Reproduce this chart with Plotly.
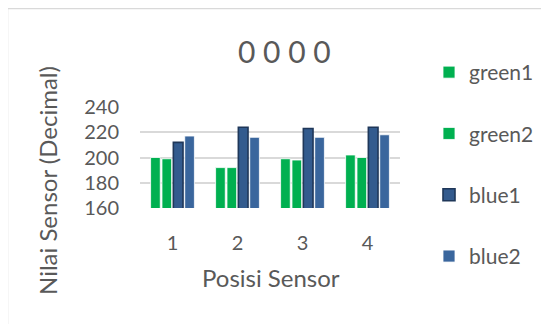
import plotly.graph_objects as go

categories = ["1", "2", "3", "4"]
green1 = [200, 192, 199, 202]
green2 = [199, 192, 198, 200]
blue1 = [212, 224, 223, 224]
blue2 = [217, 216, 216, 218]
y_ticks = [160, 180, 200, 220, 240]

OFF = 8  # page body margin offset
W, H = 549 - OFF, 324 - OFF
L, R, T, B = 140 - OFF, 400 - OFF, 107 - OFF, 208 - OFF  # plot area in layout px

def px(x):
    return (x - OFF - L) / (R - L)

def py(y):
    return (B - (y - OFF)) / (B - T)

FONT = "Lato"
TXT = "#595959"

fig = go.Figure()
series = [
    ("green1", green1, "#00B050", "#FFFFFF", 0.8),
    ("green2", green2, "#00B050", "#FFFFFF", 0.8),
    ("blue1", blue1, "#335B8E", "#1F3759", 1.6),
    ("blue2", blue2, "#3A669D", "#FFFFFF", 0.8),
]
for name, vals, fill, line, lw in series:
    fig.add_trace(go.Bar(
        x=categories, y=vals, name=name,
        marker=dict(color=fill, line=dict(color=line, width=lw)),
        legendgroup=name,
    ))

fig.update_layout(
    width=W, height=H,
    margin=dict(l=L, r=W - R, t=T, b=H - B, autoexpand=False),
    paper_bgcolor="white", plot_bgcolor="white",
    barmode="group", bargap=0.3, bargroupgap=0.15,
    font=dict(family=FONT, color=TXT, size=16),
    showlegend=True,
    legend=dict(
        xref="container", yref="container",
        x=(429 - OFF) / W, y=1 - (52 - OFF) / H, xanchor="left", yanchor="top",
        traceorder="grouped", tracegroupgap=31,
        font=dict(size=21, color=TXT, family=FONT),
        bgcolor="rgba(0,0,0,0)",
        maxheight=290,
    ),
    xaxis=dict(
        type="category", showgrid=False, showline=False, ticks="",
        tickfont=dict(size=20, color=TXT, family=FONT),
        ticklabelstandoff=21,
    ),
    yaxis=dict(
        range=[160, 240], tickvals=y_ticks,
        showgrid=True, gridcolor="#D9D9D9", gridwidth=1.5,
        zeroline=False, showline=False, ticks="",
        tickfont=dict(size=20, color=TXT, family=FONT),
        ticklabelstandoff=20,
    ),
    shapes=[dict(
        type="rect", xref="paper", yref="paper",
        x0=px(7.5), x1=px(600), y0=py(340), y1=py(8.5),
        line=dict(color="#D9D9D9", width=1.5), fillcolor="rgba(0,0,0,0)",
        layer="below",
    )],
    annotations=[
        dict(text="0 0 0 0", xref="paper", yref="paper", x=px(284), y=py(51),
             showarrow=False, font=dict(size=30, color=TXT, family=FONT),
             xanchor="center", yanchor="middle"),
        dict(text="Nilai Sensor (Decimal)", xref="paper", yref="paper",
             x=px(47), y=py(181), textangle=-90, showarrow=False,
             font=dict(size=24, color=TXT, family=FONT),
             xanchor="center", yanchor="middle"),
        dict(text="Posisi Sensor", xref="paper", yref="paper",
             x=px(271), y=py(277), showarrow=False,
             font=dict(size=24, color=TXT, family=FONT),
             xanchor="center", yanchor="middle"),
    ],
)

fig.write_html("out.html")
